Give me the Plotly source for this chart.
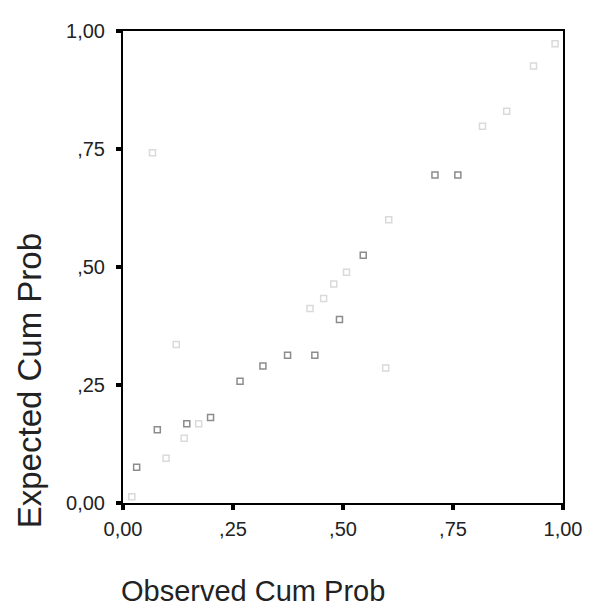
import plotly.graph_objects as go

# Observed vs expected cumulative probabilities (P-P plot)
obs_main = [0.031, 0.078, 0.145, 0.199, 0.266, 0.318, 0.374, 0.436, 0.492, 0.546, 0.709, 0.761]
exp_main = [0.076, 0.155, 0.168, 0.181, 0.258, 0.290, 0.313, 0.313, 0.389, 0.525, 0.695, 0.695]

obs_faint = [0.020, 0.098, 0.139, 0.172, 0.121, 0.425, 0.456, 0.479, 0.508, 0.597, 0.604,
             0.817, 0.872, 0.933, 0.982, 0.067]
exp_faint = [0.013, 0.095, 0.137, 0.168, 0.336, 0.412, 0.433, 0.464, 0.489, 0.286, 0.600,
             0.798, 0.830, 0.926, 0.973, 0.742]

tick_vals = [0, 0.25, 0.5, 0.75, 1.0]
tick_text = ["0,00", ",25", ",50", ",75", "1,00"]

x_title = "Observed Cum Prob"
y_title = "Expected Cum Prob"

FONT = "Liberation Sans, Arial, sans-serif"

fig = go.Figure()
fig.add_trace(go.Scatter(
    x=obs_faint, y=exp_faint, mode="markers",
    marker=dict(symbol="square-open", size=6, color="#dadada", line=dict(width=1.5)),
    showlegend=False, hoverinfo="x+y"))
fig.add_trace(go.Scatter(
    x=obs_main, y=exp_main, mode="markers",
    marker=dict(symbol="square-open", size=6, color="#8c8c8c", line=dict(width=1.5)),
    showlegend=False, hoverinfo="x+y"))

axis_common = dict(
    range=[0, 1], showgrid=False, zeroline=False,
    showline=True, linecolor="black", linewidth=2, mirror=True,
    ticks="outside", ticklen=5, tickwidth=4, tickcolor="black",
    tickvals=tick_vals, ticktext=tick_text,
    tickfont=dict(family=FONT, size=20, color="#222"),
)

fig.update_xaxes(**axis_common, ticklabelstandoff=2)
fig.update_yaxes(**axis_common, ticklabelstandoff=7)

# the page body has an 8px margin, so the figure is sized to fit inside it
fig.update_layout(
    width=586, height=600,
    margin=dict(l=115, r=24, t=19, b=105),
    paper_bgcolor="white", plot_bgcolor="white",
    font=dict(family=FONT, color="#222"),
    annotations=[
        dict(text=x_title, xref="paper", yref="paper", x=0.295, y=-0.186,
             xanchor="center", yanchor="middle", showarrow=False,
             font=dict(family=FONT, size=29, color="#222")),
        dict(text=y_title, xref="paper", yref="paper", x=-0.2125, y=0.259,
             xanchor="center", yanchor="middle", showarrow=False, textangle=-90,
             font=dict(family=FONT, size=33, color="#222")),
    ],
)

fig.write_html("out.html")
